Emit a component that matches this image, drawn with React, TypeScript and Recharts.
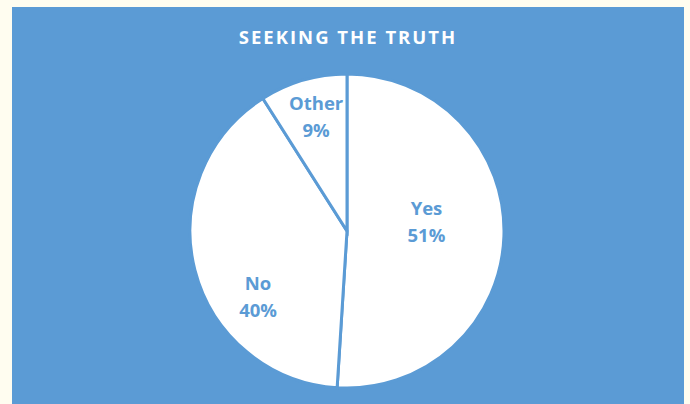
import { PieChart, Pie, Cell } from 'recharts';

const categories = ['Yes', 'No', 'Other'];
const shares = [51, 40, 9];

const data = categories.map((name, i) => ({ name, value: shares[i] }));

const BLUE = '#5B9BD5';
const FONT = '"Open Sans", Calibri, sans-serif';

// Excel "best fit" label placement, nudged per slice
const labelTweak: Record<string, { dAngle: number; r: number }> = {
  Yes: { dAngle: 8.8, r: 0.51 },
  No: { dAngle: 21.6, r: 0.7 },
  Other: { dAngle: -1.2, r: 0.76 },
};

const RADIAN = Math.PI / 180;

function renderLabel(props: any) {
  const { cx, cy, midAngle, outerRadius, name, value } = props;
  const t = labelTweak[name] || { dAngle: 0, r: 0.6 };
  const a = (midAngle + t.dAngle) * RADIAN;
  const x = cx + outerRadius * t.r * Math.cos(a);
  const y = cy - outerRadius * t.r * Math.sin(a);
  return (
    <text
      x={x}
      y={y}
      fill={BLUE}
      textAnchor="middle"
      fontFamily={FONT}
      fontWeight={700}
      fontSize={18.5}
    >
      <tspan x={x} dy={-6}>{name}</tspan>
      <tspan x={x} dy={27}>{value}%</tspan>
    </text>
  );
}

export default function App() {
  return (
    <div
      style={{
        position: 'absolute',
        left: 0,
        top: 0,
        width: 690,
        height: 404,
        background: '#FFFDF0',
        overflow: 'hidden',
      }}
    >
      <div
        style={{
          position: 'absolute',
          left: 12,
          top: 7,
          width: 672,
          height: 397,
          background: BLUE,
        }}
      >
        <div
          style={{
            position: 'absolute',
            top: 17,
            width: '100%',
            textAlign: 'center',
            color: '#fff',
            fontFamily: FONT,
            fontWeight: 700,
            fontSize: 18.5,
            letterSpacing: 2,
          }}
        >
          SEEKING THE TRUTH
        </div>
        <PieChart width={672} height={397} style={{ position: 'absolute', left: 0, top: 0 }}>
          <Pie
            data={data}
            dataKey="value"
            nameKey="name"
            cx={330}
            cy={219}
            outerRadius={157}
            startAngle={90}
            endAngle={-270}
            stroke={BLUE}
            strokeWidth={3}
            label={renderLabel}
            labelLine={false}
            isAnimationActive={false}
          >
            {data.map((d) => (
              <Cell key={d.name} fill="#FFFFFF" />
            ))}
          </Pie>
        </PieChart>
      </div>
    </div>
  );
}
